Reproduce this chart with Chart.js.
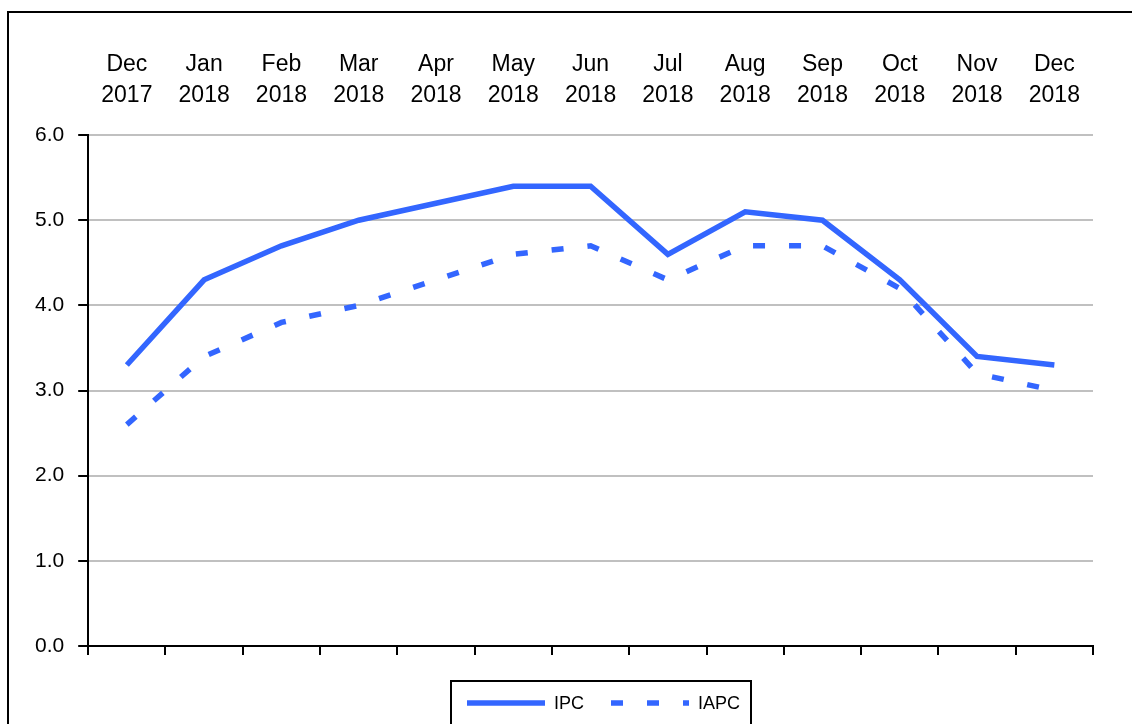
<!DOCTYPE html>
<html>
<head>
<meta charset="utf-8">
<script src="https://cdn.jsdelivr.net/npm/chart.js@4/dist/chart.umd.min.js"></script>
<style>
    body { margin: 0; background: #fff; overflow: hidden; }
    #wrap { position: relative; width: 1132px; height: 724px; }
    #frame { position: absolute; left: 7px; top: 11px; width: 1300px; height: 900px; border: 2px solid #000; }
    canvas { position: absolute; left: 0; top: 0; }
</style>
</head>
<body>
<div id="wrap">
    <div id="frame"></div>
    <canvas id="inflation" width="1132" height="724"></canvas>
</div>
<script>
// Months shown along the top
var months = [
    ['Dec', '2017'], ['Jan', '2018'], ['Feb', '2018'], ['Mar', '2018'],
    ['Apr', '2018'], ['May', '2018'], ['Jun', '2018'], ['Jul', '2018'],
    ['Aug', '2018'], ['Sep', '2018'], ['Oct', '2018'], ['Nov', '2018'],
    ['Dec', '2018']
];

// Annual rates, %
var ipc = [3.3, 4.3, 4.7, 5.0, 5.2, 5.4, 5.4, 4.6, 5.1, 5.0, 4.3, 3.4, 3.3];
var iapc = [2.6, 3.4, 3.8, 4.0, 4.3, 4.6, 4.7, 4.3, 4.7, 4.7, 4.2, 3.2, 3.0];

var yTicks = [0, 1, 2, 3, 4, 5, 6];

var blue = '#3366ff';
var font = 'Arial, "Liberation Sans", sans-serif';

// Boxed legend under the plot, drawn from the datasets
var boxLegend = {
    id: 'boxLegend',
    afterDraw: function (chart) {
        var ctx = chart.ctx;
        var area = chart.chartArea;
        var sets = chart.data.datasets;
        var sampleW = 78, textGap = 9, itemGap = 27;
        ctx.save();
        ctx.font = '18px ' + font;
        var total = 0;
        sets.forEach(function (ds, i) {
            total += sampleW + textGap + ctx.measureText(ds.label).width;
            if (i > 0) total += itemGap;
        });
        var boxW = Math.round(total + 16 + 11);
        var boxX = Math.round((area.left + area.right) / 2 + 10 - boxW / 2);
        var boxY = area.bottom + 35;
        ctx.lineWidth = 2;
        ctx.strokeStyle = '#000';
        ctx.strokeRect(boxX, boxY, boxW, 80);

        var x = boxX + 16;
        var y = boxY + 22;
        sets.forEach(function (ds) {
            ctx.beginPath();
            ctx.setLineDash(ds.borderDash || []);
            ctx.lineWidth = ds.borderWidth;
            ctx.strokeStyle = ds.borderColor;
            ctx.moveTo(x, y);
            ctx.lineTo(x + sampleW, y);
            ctx.stroke();
            ctx.setLineDash([]);
            ctx.fillStyle = '#000';
            ctx.textBaseline = 'middle';
            ctx.textAlign = 'left';
            ctx.fillText(ds.label, x + sampleW + textGap, y + 1);
            x += sampleW + textGap + ctx.measureText(ds.label).width + itemGap;
        });
        ctx.restore();
    }
};

var ctx = document.getElementById('inflation').getContext('2d');

var inflationChart = new Chart(ctx, {
    type: 'line',
    data: {
        labels: months,
        datasets: [{
            label: 'IPC',
            data: ipc,
            borderColor: blue,
            borderWidth: 5.5,
            pointRadius: 0,
            tension: 0,
            fill: false
        }, {
            label: 'IAPC',
            data: iapc,
            borderColor: blue,
            borderWidth: 5.5,
            borderDash: [12, 24],
            pointRadius: 0,
            tension: 0,
            fill: false
        }]
    },
    options: {
        responsive: false,
        animation: false,
        layout: {
            padding: { left: 21, right: 39, top: 25, bottom: 69 }
        },
        plugins: {
            legend: { display: false },
            tooltip: { enabled: false }
        },
        scales: {
            x: {
                position: 'bottom',
                offset: true,
                grid: {
                    offset: true,
                    drawOnChartArea: false,
                    tickLength: 9,
                    tickColor: '#000',
                    lineWidth: 2
                },
                border: { color: '#000', width: 2 },
                ticks: { display: false }
            },
            xTop: {
                type: 'category',
                position: 'top',
                labels: months,
                offset: true,
                grid: { display: false, drawTicks: false },
                border: { display: false },
                ticks: {
                    color: '#000',
                    padding: 24,
                    maxRotation: 0,
                    autoSkip: false,
                    font: { family: font, size: 23, lineHeight: 1.35 }
                }
            },
            y: {
                min: 0,
                max: 6,
                afterBuildTicks: function (scale) {
                    scale.ticks = yTicks.map(function (v) { return { value: v }; });
                },
                grid: {
                    color: '#c0c0c0',
                    lineWidth: 2,
                    tickLength: 10,
                    tickColor: '#000'
                },
                border: { color: '#000', width: 2 },
                ticks: {
                    color: '#000',
                    padding: 14,
                    font: { family: font, size: 21 },
                    callback: function (v) { return Number(v).toFixed(1); }
                }
            }
        }
    },
    plugins: [boxLegend]
});
</script>
</body>
</html>
